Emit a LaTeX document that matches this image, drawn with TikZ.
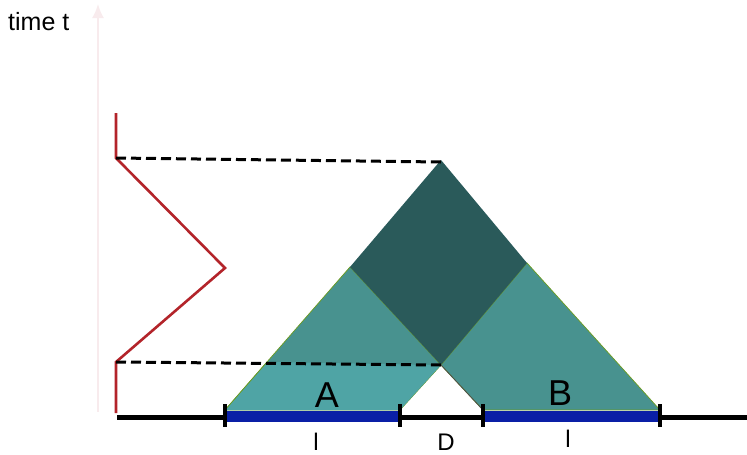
\documentclass[tikz,border=0pt]{standalone}
\usepackage{fontspec}
\setmainfont{Liberation Sans}
\usetikzlibrary{arrows.meta,positioning,calc}
\definecolor{Cone}{HTML}{48928F}
\definecolor{ConeLow}{HTML}{4FA4A5}
\definecolor{Overlap}{HTML}{2A5A5A}
\definecolor{Rim}{HTML}{6B9B1E}
\definecolor{Signal}{HTML}{B3242A}
\definecolor{Region}{HTML}{0A1FA6}
\definecolor{Axis}{HTML}{F8EBED}
\tikzset{
 cone/.style={fill=Cone,draw=Rim,line width=0.7pt},
 core/.style={fill=Overlap},
 sig/.style={draw=Signal,line width=2.6pt,line join=miter},
 proj/.style={draw=black,line width=3pt,dash pattern=on 10pt off 5pt},
 base/.style={draw=black,line width=5pt},
 band/.style={draw=Region,line width=11pt},
 tick/.style={draw=black,line width=4pt},
 lab/.style={inner sep=0pt,anchor=base},
 big/.style={lab,font=\fontsize{36}{40}\selectfont},
 small/.style={lab,font=\fontsize{24}{28}\selectfont}
}
\begin{document}
\begin{tikzpicture}[x=1pt,y=-1pt]
\useasboundingbox (0,0) rectangle (747,455);
% time axis
\coordinate (t0) at (98,412);
\coordinate (t1) at (98,4);
\draw[Axis,line width=2pt,-{Latex[length=14pt,width=12pt]}] (t0)--(t1);
\node[anchor=base west,inner sep=0pt,font=\fontsize{25}{30}\selectfont] (tl) at (8,30) {time t};
% cone corners
\coordinate (a0) at (225,410);
\coordinate (a1) at (400,410);
\coordinate (b0) at (483,410);
\coordinate (b1) at (660,410);
\coordinate (dt) at (441,365);
\coordinate (top) at (441,160);
\coordinate (lv) at (350,267);
\coordinate (rv) at (527,263);
\coordinate (ad) at (267,362);
\filldraw[cone] (a0)--(a1)--(dt)--(lv)--cycle;
\fill[ConeLow] (a0)--(a1)--(dt)--(ad)--cycle;
\draw[Rim,line width=0.7pt] (a0)--(ad);
\filldraw[cone] (b0)--(b1)--(rv)--(dt)--cycle;
\fill[core] (top)--(lv)--(dt)--(rv)--cycle;
\draw[black!70,line width=0.8pt] (dt)--(b0);
% signal
\coordinate (s0) at (116,113);
\coordinate (s1) at (116,158);
\coordinate (s2) at (225,268);
\coordinate (s3) at (116,362);
\coordinate (s4) at (116,413);
\draw[sig] (s0)--(s1)--(s2)--(s3)--(s4);
\draw[proj] (s1)--(441,162);
\draw[proj] (s3)--(dt);
% space axis
\coordinate (x0) at (117,417);
\coordinate (x1) at (747,417);
\draw[base] (x0)--(x1);
\draw[band] ($(a0)+(0,6)$)--($(a1)+(0,6)$);
\draw[band] ($(b0)+(0,6)$)--($(b1)+(0,6)$);
\foreach \p in {a0,a1,b0,b1} \draw[tick] ($(\p)+(0,-6)$)--($(\p)+(0,17)$);
% labels
\node[big] (la) at (327,407) {A};
\node[big] (lb) at (560,405) {B};
\node[small] (wa) at (316,450) {l};
\node[small] (wb) at (568,447) {l};
\node[small] (ld) at (446,450) {D};
\end{tikzpicture}
\end{document}
